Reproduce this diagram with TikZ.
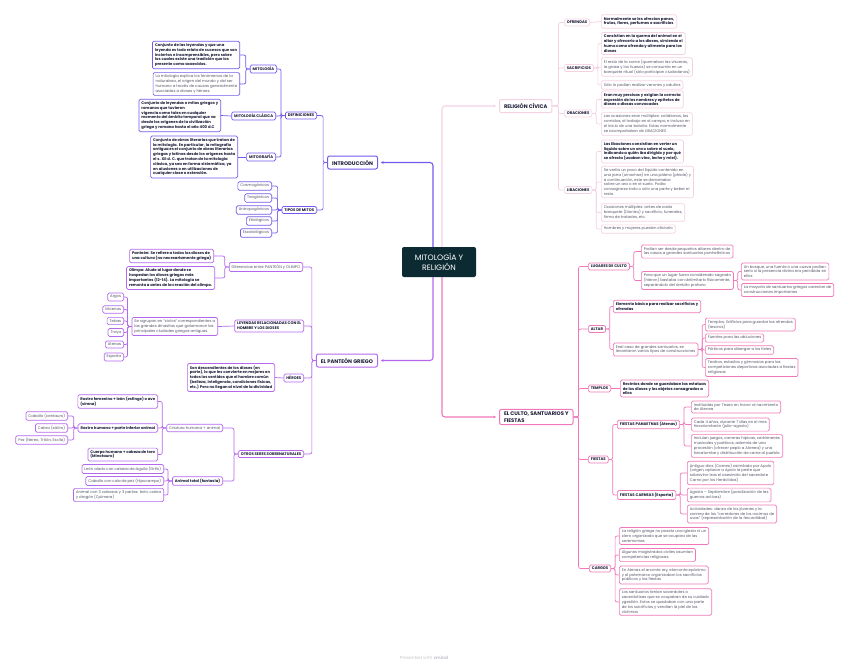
\documentclass[tikz,border=0pt]{standalone}
\usepackage{fontspec}
\setmainfont{Poppins}
\usepackage{tikz}
\definecolor{rootdark}{RGB}{12,42,50}
\definecolor{introblue}{RGB}{118,88,238}
\definecolor{pantviolet}{RGB}{180,104,238}
\definecolor{civicpink}{RGB}{244,210,228}
\definecolor{cultopink}{RGB}{240,120,186}
\definecolor{inkdark}{RGB}{28,28,56}
\definecolor{inkgrey}{RGB}{85,85,105}
\definecolor{footgrey}{RGB}{200,200,206}
\usetikzlibrary{arrows.meta}
\newcommand{\tinyfs}{\fontsize{3.8}{4.8}\selectfont}
\newcommand{\branchfs}{\fontsize{5.2}{6.4}\selectfont}
\newcommand{\rootfs}{\fontsize{7.8}{10}\selectfont}

\begin{document}
\begin{tikzpicture}[
    x=1pt, y=-1pt,
    hub/.style={rectangle, rounded corners=2pt, fill=rootdark, text=white, font=\rootfs, align=center, minimum width=74, minimum height=30, inner sep=0pt},
    branch/.style={rectangle, rounded corners=2pt, draw=#1, line width=1pt, fill=white, text=inkdark, font=\branchfs\bfseries, align=left, minimum height=13, inner xsep=4.5pt, inner ysep=2.5pt},
    topic/.style={rectangle, rounded corners=1.5pt, draw=#1, line width=0.7pt, fill=white, text=inkdark, font=\tinyfs\bfseries, align=left, inner xsep=2.5pt, inner ysep=2.2pt},
    note/.style={rectangle, rounded corners=1.5pt, draw=#1, line width=0.7pt, fill=white, text=inkgrey, font=\tinyfs, align=left, inner xsep=2.5pt, inner ysep=2.2pt},
    link/.style={draw=#1, line width=0.7pt, rounded corners=2pt},
    mainlink/.style={draw=#1, line width=1.1pt, rounded corners=3pt, -{Stealth[length=2.6pt,width=2.8pt]}, shorten >=3pt}
]
\fill[white] (0,0) rectangle (848,667);
\useasboundingbox (0,0) rectangle (848,667);

% Centre
\node[hub] (root) at (439,262) {MITOLOGÍA Y\\RELIGIÓN};

% Introduccion
\node[branch=introblue, anchor=east] (intro) at (378,162.5) {INTRODUCCIÓN};
\node[topic=introblue, anchor=east] (defs) at (317,115.5) {DEFINICIONES};
\node[topic=introblue, anchor=east] (tipos) at (317,210) {TIPOS DE MITOS};
\node[topic=introblue, anchor=east] (mitol) at (277,69) {MITOLOGÍA};
\node[topic=introblue, anchor=east] (mclas) at (276,116) {MITOLOGÍA CLÁSICA};
\node[topic=introblue, anchor=east] (mgraf) at (276,157) {MITOGRAFÍA};
\node[topic=introblue, anchor=east] (mitolA) at (240,55) { Conjunto de las leyendas y que una\\leyenda es todo relato de sucesos que son\\inciertos e incomprensibles, pero sobre\\los cuales existe una tradición que los\\presente como acaecidos.};
\node[note=introblue, anchor=east] (mitolB) at (240,84) {La mitología explica los fenómenos de la\\naturaleza, el origen del mundo y del ser\\humano a través de causas generalmente\\asociadas a dioses y héroes.};
\node[topic=introblue, anchor=east] (mclasA) at (221,115.5) {Conjunto de leyendas o mitos griegos y\\romanos que tuvieron\\vigencia como tales en cualquier\\momento del ámbito temporal que va\\desde los orígenes de la civilización\\griega y romana hasta el año 400 d.C};
\node[topic=introblue, anchor=east] (mgrafA) at (238,157) {Conjunto de obras literarias que tratan de\\la mitología. En particular, la mitografía\\antigua es el conjunto de obras literarias\\griegas y latinas desde los orígenes hasta\\el s. XII d. C. que tratan de la mitología\\clásica, ya sea en forma sistemática, ya\\en alusiones o en utilizaciones de\\cualquier clase o extensión.};
\node[note=introblue, anchor=east] (cosmo) at (272,186) {Cosmogónicos};
\node[note=introblue, anchor=east] (teo) at (272,198) {Teogónicos};
\node[note=introblue, anchor=east] (antro) at (272,210) {Antropogónicos};
\node[note=introblue, anchor=east] (etio) at (272,221) {Etiológicos};
\node[note=introblue, anchor=east] (escato) at (272,233) {Escatológicos};

\draw[link=introblue] (intro.west) -- ++(-4,0) |- (defs.east);
\draw[link=introblue] (intro.west) -- ++(-4,0) |- (tipos.east);
\draw[link=introblue] (defs.west) -- ++(-4,0) |- (mitol.east);
\draw[link=introblue] (defs.west) -- ++(-4,0) |- (mclas.east);
\draw[link=introblue] (defs.west) -- ++(-4,0) |- (mgraf.east);
\draw[link=introblue] (mitol.west) -- ++(-4,0) |- (mitolA.east);
\draw[link=introblue] (mitol.west) -- ++(-4,0) |- (mitolB.east);
\draw[link=introblue] (mclas.west) -- (mclasA.east);
\draw[link=introblue] (mgraf.west) -- (mgrafA.east);
\draw[link=introblue] (tipos.west) -- ++(-4,0) |- (cosmo.east);
\draw[link=introblue] (tipos.west) -- ++(-4,0) |- (teo.east);
\draw[link=introblue] (tipos.west) -- ++(-4,0) |- (antro.east);
\draw[link=introblue] (tipos.west) -- ++(-4,0) |- (etio.east);
\draw[link=introblue] (tipos.west) -- ++(-4,0) |- (escato.east);

% El panteon griego
\node[branch=pantviolet, anchor=east] (panteon) at (378,360.5) {EL PANTEÓN GRIEGO};
\node[note=pantviolet, anchor=east] (difer) at (303,267) {Diferencias entre PANTEÓN y OLIMPO};
\node[topic=pantviolet, anchor=east] (leyen) at (304,326) {LEYENDAS RELACIONADAS CON EL\\HOMBRE Y LOS DIOSES};
\node[topic=pantviolet, anchor=east] (heroes) at (304,378) {HÉROES};
\node[topic=pantviolet, anchor=east] (otros) at (304,454) {OTROS SERES SOBRENATURALES};
\node[topic=pantviolet, anchor=east] (panteonA) at (214,256) {Panteón: Se refiere a todos los dioses de\\una cultura (no necesariamente griega)};
\node[topic=pantviolet, anchor=east] (olimpoA) at (215,278) {Olimpo: Alude al lugar donde se\\hospedan los dioses griegos más\\importantes (12-14). La mitología se\\remonta a antes de la creación del olimpo.};
\node[note=pantviolet, anchor=east] (ciclos) at (218,326.5) {Se agrupan en “ciclos” correspondientes a\\las grandes dinastías que gobernaron las\\principales ciudades griegas antiguas.};
\node[note=pantviolet, anchor=east] (argos) at (124,297) {Argos};
\node[note=pantviolet, anchor=east] (micenas) at (124,309.5) {Micenas};
\node[note=pantviolet, anchor=east] (tebas) at (124,321) {Tebas};
\node[note=pantviolet, anchor=east] (troya) at (124,332.5) {Troya};
\node[note=pantviolet, anchor=east] (atenas) at (124,344.5) {Atenas};
\node[note=pantviolet, anchor=east] (esparta) at (124,357) {Esparta};
\node[topic=pantviolet, anchor=east] (heroesA) at (275,377.5) {Son descendientes de los dioses (en\\parte), lo que les convierte en mejores en\\todos los sentidos que el hombre común\\(belleza, inteligencia, condiciones físicas,\\etc.) Pero no llegan al nivel de la divinidad};
\node[note=pantviolet, anchor=east] (criat) at (223,428) {Criatura humana + animal};
\node[topic=pantviolet, anchor=east] (animt) at (223,481) {Animal total (fantasía)};
\node[topic=pantviolet, anchor=east] (rostF) at (158,401.5) {Rostro femenino + león (esfinge) o ave\\(sirena)};
\node[topic=pantviolet, anchor=east] (rostH) at (158,428) {Rostro humano + parte inferior animal};
\node[topic=pantviolet, anchor=east] (cuerpo) at (158,454.5) {Cuerpo humano + cabeza de toro\\(Minotauro)};
\node[note=pantviolet, anchor=east] (caballo) at (68,416) {Caballo (centauro)};
\node[note=pantviolet, anchor=east] (cabra) at (68,428) {Cabra (sátiro)};
\node[note=pantviolet, anchor=east] (pez) at (68,440) {Pez (Nereo, Tritón, Escila)};
\node[note=pantviolet, anchor=east] (grifo) at (164,469) {León alado con cabeza de águila (Grifo)};
\node[note=pantviolet, anchor=east] (hipoc) at (164,481) {Caballo con cola de pez (Hipocampo)};
\node[note=pantviolet, anchor=east] (quimera) at (164,495) {Animal con 3 cabezas y 3 partes: león, cabra\\y dragón (Quimera)};

\draw[link=pantviolet] (panteon.west) -- ++(-4,0) |- (difer.east);
\draw[link=pantviolet] (panteon.west) -- ++(-4,0) |- (leyen.east);
\draw[link=pantviolet] (panteon.west) -- ++(-4,0) |- (heroes.east);
\draw[link=pantviolet] (panteon.west) -- ++(-4,0) |- (otros.east);
\draw[link=pantviolet] (difer.west) -- ++(-4,0) |- (panteonA.east);
\draw[link=pantviolet] (difer.west) -- ++(-4,0) |- (olimpoA.east);
\draw[link=pantviolet] (leyen.west) -- (ciclos.east);
\draw[link=pantviolet] (ciclos.west) -- ++(-4,0) |- (argos.east);
\draw[link=pantviolet] (ciclos.west) -- ++(-4,0) |- (micenas.east);
\draw[link=pantviolet] (ciclos.west) -- ++(-4,0) |- (tebas.east);
\draw[link=pantviolet] (ciclos.west) -- ++(-4,0) |- (troya.east);
\draw[link=pantviolet] (ciclos.west) -- ++(-4,0) |- (atenas.east);
\draw[link=pantviolet] (ciclos.west) -- ++(-4,0) |- (esparta.east);
\draw[link=pantviolet] (heroes.west) -- (heroesA.east);
\draw[link=pantviolet] (otros.west) -- ++(-4,0) |- (criat.east);
\draw[link=pantviolet] (otros.west) -- ++(-4,0) |- (animt.east);
\draw[link=pantviolet] (criat.west) -- ++(-4,0) |- (rostF.east);
\draw[link=pantviolet] (criat.west) -- ++(-4,0) |- (rostH.east);
\draw[link=pantviolet] (criat.west) -- ++(-4,0) |- (cuerpo.east);
\draw[link=pantviolet] (rostH.west) -- ++(-4,0) |- (caballo.east);
\draw[link=pantviolet] (rostH.west) -- ++(-4,0) |- (cabra.east);
\draw[link=pantviolet] (rostH.west) -- ++(-4,0) |- (pez.east);
\draw[link=pantviolet] (animt.west) -- ++(-4,0) |- (grifo.east);
\draw[link=pantviolet] (animt.west) -- ++(-4,0) |- (hipoc.east);
\draw[link=pantviolet] (animt.west) -- ++(-4,0) |- (quimera.east);

% Religion civica
\node[branch=civicpink, anchor=west] (civica) at (499,106) {RELIGIÓN CÍVICA};
\node[topic=civicpink, anchor=west] (ofrendas) at (564,22.5) {OFRENDAS};
\node[topic=civicpink, anchor=west] (sacrif) at (564,68) {SACRIFICIOS};
\node[topic=civicpink, anchor=west] (oracion) at (564,113.5) {ORACIONES};
\node[topic=civicpink, anchor=west] (libac) at (564,190) {LIBACIONES};
\node[topic=civicpink, anchor=west] (ofrA) at (601,21.5) {Normalmente se les ofrecían panes,\\frutos, flores, perfumes o sacrificios};
\node[topic=civicpink, anchor=west] (sacA) at (601,43.5) {Consistían en la quema del animal en el\\altar y ofrecerlo a los dioses, sirviendo el\\humo como ofrenda y alimento para los\\dioses};
\node[note=civicpink, anchor=west] (sacB) at (601,67) {El resto de la carne (quemaban las vísceras,\\la grasa y los huesos) se consumía en un\\banquete ritual (sólo participan ciudadanos)};
\node[note=civicpink, anchor=west] (sacC) at (601,85) {Sólo lo podían realizar varones y adultos};
\node[topic=civicpink, anchor=west] (oraA) at (601,99.5) {Eran muy precisas y exigían la correcta\\expresión de los nombres y epítetos de\\dioses o diosas convocados};
\node[note=civicpink, anchor=west] (oraB) at (601,124) {Las ocasiones eran múltiples: cotidianas, las\\comidas, el trabajo en el campo, e incluso en\\el inicio de una batalla. Estas normalmente\\se acompañaban de LIBACIONES};
\node[topic=civicpink, anchor=west] (libA) at (601,151.5) {Las libaciones consistían en verter un\\líquido sobre un ara o sobre el suelo,\\indicando a quién iba dirigido y por qué\\se ofrecía (usaban vino, leche y miel).};
\node[note=civicpink, anchor=west] (libB) at (601,182) {Se vertía un poco del líquido contenido en\\una jarra (oinochoe) en una pátera (phiale) y\\a continuación, este se derramaba\\sobre un ara o en el suelo. Podía\\consagrarse todo o sólo una parte y beber el\\resto.};
\node[note=civicpink, anchor=west] (libC) at (601,212.5) {Ocasiones múltiples: antes de cada\\banquete (Dioniso) y sacrificio, funerales,\\firma de tratados, etc.};
\node[note=civicpink, anchor=west] (libD) at (601,229) {Hombres y mujeres pueden oficiarlo};

\draw[link=civicpink] (civica.east) -- ++(6,0) |- (ofrendas.west);
\draw[link=civicpink] (civica.east) -- ++(6,0) |- (sacrif.west);
\draw[link=civicpink] (civica.east) -- ++(6,0) |- (oracion.west);
\draw[link=civicpink] (civica.east) -- ++(6,0) |- (libac.west);
\draw[link=civicpink] (ofrendas.east) -- (ofrA.west);
\draw[link=civicpink] (sacrif.east) -- ++(4,0) |- (sacA.west);
\draw[link=civicpink] (sacrif.east) -- ++(4,0) |- (sacB.west);
\draw[link=civicpink] (sacrif.east) -- ++(4,0) |- (sacC.west);
\draw[link=civicpink] (oracion.east) -- ++(4,0) |- (oraA.west);
\draw[link=civicpink] (oracion.east) -- ++(4,0) |- (oraB.west);
\draw[link=civicpink] (libac.east) -- ++(4,0) |- (libA.west);
\draw[link=civicpink] (libac.east) -- ++(4,0) |- (libB.west);
\draw[link=civicpink] (libac.east) -- ++(4,0) |- (libC.west);
\draw[link=civicpink] (libac.east) -- ++(4,0) |- (libD.west);

% El culto, santuarios y fiestas
\node[branch=cultopink, anchor=west] (culto) at (499,417) {EL CULTO, SANTUARIOS Y\\FIESTAS};
\node[topic=cultopink, anchor=west] (lugares) at (588,266.5) {LUGARES DE CULTO};
\node[topic=cultopink, anchor=west] (altar) at (588,329) {ALTAR};
\node[topic=cultopink, anchor=west] (templos) at (588,388.5) {TEMPLOS};
\node[topic=cultopink, anchor=west] (fiestas) at (588,459.5) {FIESTAS};
\node[topic=cultopink, anchor=west] (cargos) at (589,568.5) {CARGOS};
\node[note=cultopink, anchor=west] (lugA) at (641,251.5) {Podían ser desde pequeños altares dentro de\\las casas a grandes santuarios panhelénicos};
\node[note=cultopink, anchor=west] (lugB) at (641,280.5) {Para que un lugar fuera considerado sagrado\\(hieron) bastaba con delimitarlo físicamente,\\separándolo del ámbito profano};
\node[note=cultopink, anchor=west] (lugB1) at (741,271.5) {Un bosque, una fuente o una cueva podían\\serlo si la presencia divina era percibida en\\ellos};
\node[note=cultopink, anchor=west] (lugB2) at (741,290) {La mayoría de santuarios griegos carecían de\\construcciones importantes};
\node[topic=cultopink, anchor=west] (altA) at (613,306.5) {Elemento básico para realizar sacrificios y\\ofrendas};
\node[note=cultopink, anchor=west] (altB) at (613,349.5) {Enel caso de grandes santuarios, se\\levantaron varios tipos de construcciones};
\node[note=cultopink, anchor=west] (edif) at (705,324.5) {Templos: Edificios para guardar las ofrendas\\(tesoros)};
\node[note=cultopink, anchor=west] (fuent) at (705,338) {Fuentes para las abluciones};
\node[note=cultopink, anchor=west] (portic) at (705,350) {Pórticos para albergar a los fieles};
\node[note=cultopink, anchor=west] (teatr) at (705,367.5) {Teatros, estadios y gimnasios para las\\competiciones deportivas asociadas a fiestas\\religiosas};
\node[topic=cultopink, anchor=west] (temA) at (620,388.5) {Recintos donde se guardaban las estatuas\\de los dioses y los objetos consagrados a\\ellos};
\node[topic=cultopink, anchor=west] (panat) at (617,424.5) {FIESTAS PANAETNAS (Atenas)};
\node[topic=cultopink, anchor=west] (carneas) at (617,495) {FIESTAS CARNEAS (Esparta)};
\node[note=cultopink, anchor=west] (panA) at (691,407) {Instituidas por Teseo en honor al nacimiento\\de Atenea};
\node[note=cultopink, anchor=west] (panB) at (691,424.5) {Cada 4 años, durante 7 días en el mes\\Hecatombeón (julio-agosto)};
\node[note=cultopink, anchor=west] (panC) at (691,446) {Incluían juegos, carreras hípicas, certámenes\\musicales y poéticos, además de una\\procesión (ofrecer peplo a Atenea) y una\\hecatombe y distribución de carne al pueblo.};
\node[note=cultopink, anchor=west] (carA) at (687,473) {Antiguo dios (Carneo) asimilado por Apolo\\(origen, aplacar a Apolo la peste que\\sobrevino tras el asesinato del sacerdote\\Carno por los Heráclidas)};
\node[note=cultopink, anchor=west] (carB) at (687,495) {Agosto – Septiembre (paralización de las\\guerras activas)};
\node[note=cultopink, anchor=west] (carC) at (687,514) {Actividades: danza de los jóvenes y la\\carrera de los “corredores de los racimos de\\uvas” (representación de la fecundidad)};
\node[note=cultopink, anchor=west] (cargA) at (619,536) {La religión griega no poseía una iglesia ni un\\clero organizado que se ocupara de las\\ceremonias.};
\node[note=cultopink, anchor=west] (cargB) at (619,555) {Algunos magistrados civiles asumían\\competencias religiosas.};
\node[note=cultopink, anchor=west] (cargC) at (619,575) {En Atenas el arconte rey, elarconte epónimo\\y el polemarco organizaban los sacrificios\\públicos y las fiestas};
\node[note=cultopink, anchor=west] (cargD) at (619,602) {Los santuarios tenían sacerdotes o\\sacerdotisas que se ocupaban de su cuidado\\ygestión. Estos se quedaban con una parte\\de los sacrificios y vendían la piel de las\\víctimas};

\draw[link=cultopink] (culto.east) -- ++(5,0) |- (lugares.west);
\draw[link=cultopink] (culto.east) -- ++(5,0) |- (altar.west);
\draw[link=cultopink] (culto.east) -- ++(5,0) |- (templos.west);
\draw[link=cultopink] (culto.east) -- ++(5,0) |- (fiestas.west);
\draw[link=cultopink] (culto.east) -- ++(5,0) |- (cargos.west);
\draw[link=cultopink] (lugares.east) -- ++(4,0) |- (lugA.west);
\draw[link=cultopink] (lugares.east) -- ++(4,0) |- (lugB.west);
\draw[link=cultopink] (lugB.east) -- ++(4,0) |- (lugB1.west);
\draw[link=cultopink] (lugB.east) -- ++(4,0) |- (lugB2.west);
\draw[link=cultopink] (altar.east) -- ++(4,0) |- (altA.west);
\draw[link=cultopink] (altar.east) -- ++(4,0) |- (altB.west);
\draw[link=cultopink] (altB.east) -- ++(4,0) |- (edif.west);
\draw[link=cultopink] (altB.east) -- ++(4,0) |- (fuent.west);
\draw[link=cultopink] (altB.east) -- ++(4,0) |- (portic.west);
\draw[link=cultopink] (altB.east) -- ++(4,0) |- (teatr.west);
\draw[link=cultopink] (templos.east) -- (temA.west);
\draw[link=cultopink] (fiestas.east) -- ++(4,0) |- (panat.west);
\draw[link=cultopink] (fiestas.east) -- ++(4,0) |- (carneas.west);
\draw[link=cultopink] (panat.east) -- ++(4,0) |- (panA.west);
\draw[link=cultopink] (panat.east) -- ++(4,0) |- (panB.west);
\draw[link=cultopink] (panat.east) -- ++(4,0) |- (panC.west);
\draw[link=cultopink] (carneas.east) -- ++(4,0) |- (carA.west);
\draw[link=cultopink] (carneas.east) -- ++(4,0) |- (carB.west);
\draw[link=cultopink] (carneas.east) -- ++(4,0) |- (carC.west);
\draw[link=cultopink] (cargos.east) -- ++(4,0) |- (cargA.west);
\draw[link=cultopink] (cargos.east) -- ++(4,0) |- (cargB.west);
\draw[link=cultopink] (cargos.east) -- ++(4,0) |- (cargC.west);
\draw[link=cultopink] (cargos.east) -- ++(4,0) |- (cargD.west);

% Main branches
\draw[mainlink=introblue] ([xshift=-6]root.north) |- (intro.east);
\draw[mainlink=pantviolet] ([xshift=-6]root.south) |- (panteon.east);
\draw[mainlink=civicpink] ([xshift=3]root.north) |- (civica.west);
\draw[mainlink=cultopink] ([xshift=3]root.south) |- (culto.west);

% Footer
\node[text=footgrey, font=\fontsize{4.4}{5}\selectfont] (footer) at (424,658) {Presented with \textbf{xmind}};

\end{tikzpicture}
\end{document}
